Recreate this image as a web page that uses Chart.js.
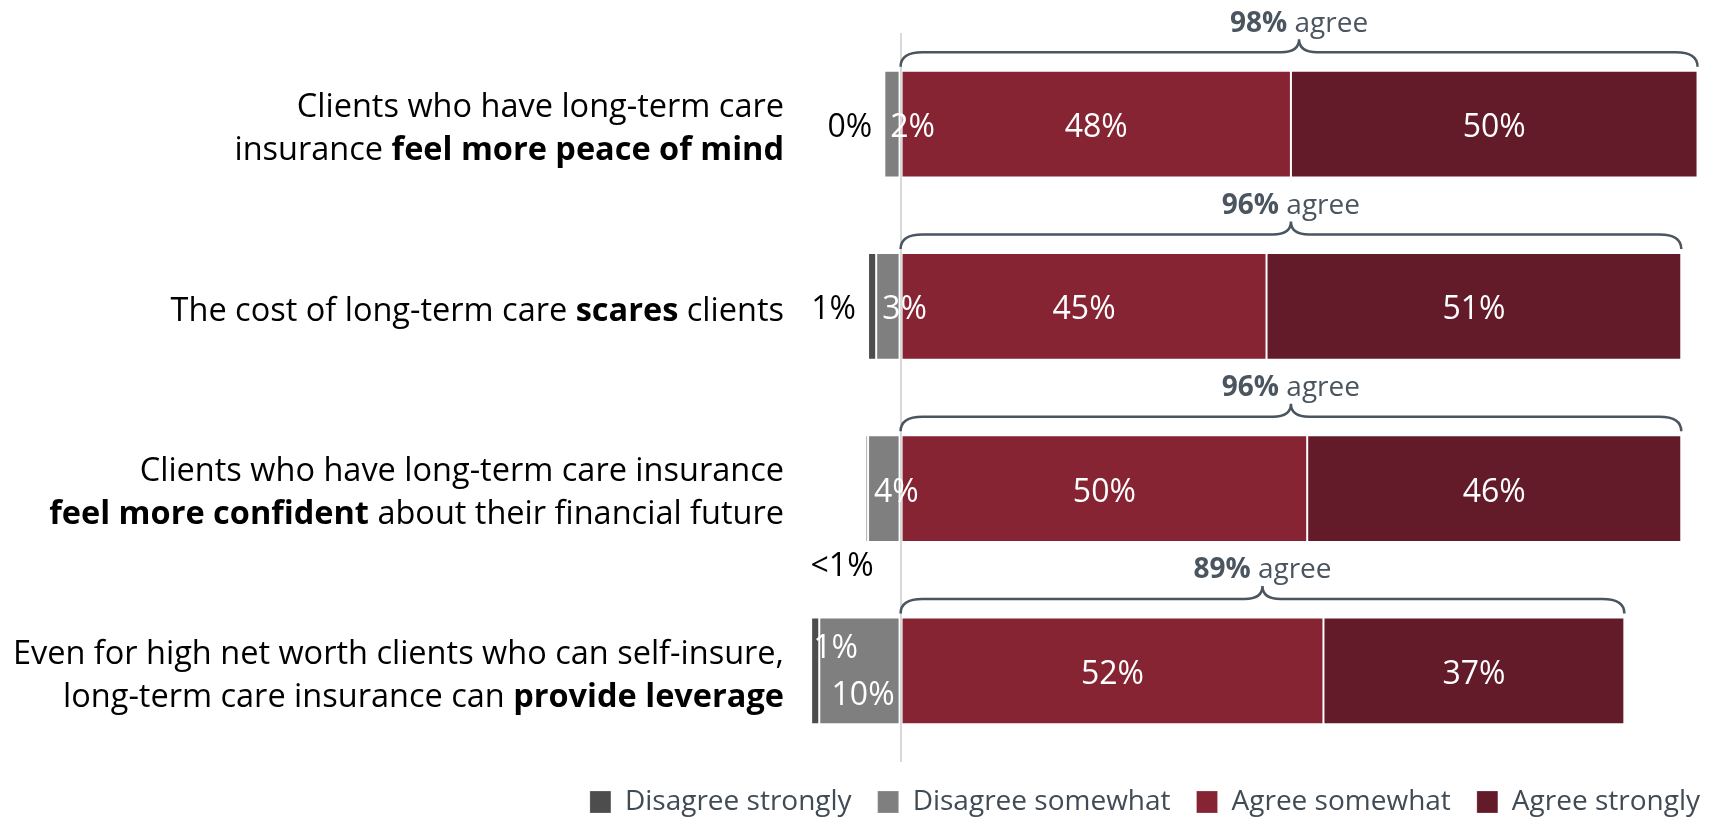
<!DOCTYPE html>
<html lang="en">
<head>
<meta charset="UTF-8" />
<title>Long-term care: advisor views</title>
<script src="https://cdn.jsdelivr.net/npm/chart.js@4.4.1/dist/chart.umd.min.js"></script>
<style>
  html, body { margin: 0; padding: 0; background: #fff; }
</style>
</head>
<body>
<canvas id="chart" width="1726" height="823"></canvas>
<script>
// Statements, one entry per line; **...** marks the bold part
const categories = [
  ['Clients who have long-term care', 'insurance **feel more peace of mind**'],
  ['The cost of long-term care **scares** clients'],
  ['Clients who have long-term care insurance', '**feel more confident** about their financial future'],
  ['Even for high net worth clients who can self-insure,', 'long-term care insurance can **provide leverage**']
];

const disagreeStrongly = [0, 1, 0.3, 1];
const disagreeSomewhat = [2, 3, 4, 10];
const agreeSomewhat = [48, 45, 50, 52];
const agreeStrongly = [50, 51, 46, 37];
const disagreeStronglyLabels = ['0%', '1%', '<1%', '1%'];

const seriesNames = ['Disagree strongly', 'Disagree somewhat', 'Agree somewhat', 'Agree strongly'];

const FONT = "'Open Sans', sans-serif";
const COLORS = ['#4d4d4d', '#7f7f7f', '#862433', '#641b29'];
const SLATE = '#4a5560';
const NUDGE = 4; // optical shift for middle-baseline text

// floating [start, end] segments, disagree side runs left of zero
const strongDisagreeBars = disagreeStrongly.map((v, i) => v > 0 ? [-(v + disagreeSomewhat[i]), -disagreeSomewhat[i]] : null);
const somewhatDisagreeBars = disagreeSomewhat.map(v => [-v, 0]);
const somewhatAgreeBars = agreeSomewhat.map(v => [0, v]);
const strongAgreeBars = agreeStrongly.map((v, i) => [agreeSomewhat[i], agreeSomewhat[i] + v]);

function richParts(line) {
  return line.split('**').map((text, i) => ({ text, bold: i % 2 === 1 })).filter(p => p.text);
}

function drawRich(ctx, line, x, y, size, color, align) {
  const parts = richParts(line);
  const fontOf = bold => (bold ? 'bold ' : '') + size + 'px ' + FONT;
  let total = 0;
  parts.forEach(p => {
    ctx.font = fontOf(p.bold);
    p.w = ctx.measureText(p.text).width;
    total += p.w;
  });
  let cx = align === 'right' ? x - total : align === 'center' ? x - total / 2 : x;
  ctx.fillStyle = color;
  ctx.textAlign = 'left';
  parts.forEach(p => {
    ctx.font = fontOf(p.bold);
    ctx.fillText(p.text, cx, y);
    cx += p.w;
  });
}

function drawText(ctx, text, x, y, align, color) {
  ctx.font = '32px ' + FONT;
  ctx.textAlign = align;
  ctx.fillStyle = color;
  ctx.fillText(text, x, y + NUDGE);
}

// curly brace spanning x0..x1, sitting just above `top`
function drawBrace(ctx, x0, x1, top) {
  const yEnd = top - 4, yLine = top - 18.5, yTip = top - 31.5;
  const xm = (x0 + x1) / 2, rEnd = 22, rMid = 18;
  ctx.beginPath();
  ctx.moveTo(x0, yEnd);
  ctx.quadraticCurveTo(x0, yLine, x0 + rEnd, yLine);
  ctx.lineTo(xm - rMid, yLine);
  ctx.quadraticCurveTo(xm, yLine, xm, yTip);
  ctx.quadraticCurveTo(xm, yLine, xm + rMid, yLine);
  ctx.lineTo(x1 - rEnd, yLine);
  ctx.quadraticCurveTo(x1, yLine, x1, yEnd);
  ctx.strokeStyle = SLATE;
  ctx.lineWidth = 2.5;
  ctx.stroke();
}

const annotations = {
  id: 'annotations',
  afterDatasetsDraw(chart) {
    const { ctx, chartArea, scales: { x, y } } = chart;
    ctx.save();
    ctx.textBaseline = 'middle';

    categories.forEach((lines, i) => {
      const cy = y.getPixelForValue(i);
      lines.forEach((line, k) => {
        const ly = cy + (k - (lines.length - 1) / 2) * 43 + NUDGE + 1;
        drawRich(ctx, line, chartArea.left - 19, ly, 32.5, '#000', 'right');
      });
    });

    categories.forEach((_, i) => {
      const bar = chart.getDatasetMeta(2).data[i];
      const cy = bar.y;
      const top = cy - bar.height / 2;
      const bottom = cy + bar.height / 2;
      const zero = x.getPixelForValue(0);

      // agree segments: centred labels
      [[2, agreeSomewhat], [3, agreeStrongly]].forEach(([d, values]) => {
        const el = chart.getDatasetMeta(d).data[i];
        drawText(ctx, values[i] + '%', (el.x + el.base) / 2, cy, 'center', '#fff');
      });

      // disagree segments
      const left = x.getPixelForValue(-(disagreeStrongly[i] + disagreeSomewhat[i]));
      const somewhatLeft = x.getPixelForValue(-disagreeSomewhat[i]);
      const strongLabel = disagreeStronglyLabels[i];
      if (zero - left > 80) {
        drawText(ctx, strongLabel, left + 2, cy - 26, 'left', '#fff');
        drawText(ctx, disagreeSomewhat[i] + '%', zero - 6, cy + 21.5, 'right', '#fff');
      } else {
        drawText(ctx, disagreeSomewhat[i] + '%', somewhatLeft + 6, cy, 'left', '#fff');
        if (disagreeStrongly[i] > 0 && disagreeStrongly[i] < 1) {
          drawText(ctx, strongLabel, left + 8, bottom + 21, 'right', '#000');
        } else {
          drawText(ctx, strongLabel, left - 12, cy, 'right', '#000');
        }
      }

      // agree total brace
      const total = agreeSomewhat[i] + agreeStrongly[i];
      const end = x.getPixelForValue(total);
      drawBrace(ctx, zero, end, top);
      ctx.textBaseline = 'alphabetic';
      drawRich(ctx, '**' + total + '%** agree', (zero + end) / 2, top - 39, 28, SLATE, 'center');
      ctx.textBaseline = 'middle';
    });

    ctx.restore();
  }
};

const datasets = [strongDisagreeBars, somewhatDisagreeBars, somewhatAgreeBars, strongAgreeBars].map((data, d) => ({
  label: seriesNames[d],
  data,
  backgroundColor: COLORS[d],
  borderColor: 'rgba(255,255,255,0.22)',
  borderWidth: 1,
  borderSkipped: false
}));

new Chart(document.getElementById('chart'), {
  type: 'bar',
  data: { labels: categories.map(c => c.join(' ')), datasets },
  options: {
    indexAxis: 'y',
    responsive: false,
    animation: false,
    devicePixelRatio: 1,
    layout: { padding: { top: 33, right: 0, bottom: 0, left: 0 } },
    datasets: {
      bar: { grouped: false, barPercentage: 0.586, categoryPercentage: 1 }
    },
    scales: {
      x: {
        min: -12,
        max: 101.5,
        z: 1,
        ticks: { display: false },
        border: { display: false },
        grid: { drawTicks: false, color: '#d9d9d9', lineWidth: 2 },
        afterBuildTicks: s => { s.ticks = [{ value: 0 }]; },
        afterFit: s => { s.height = 0; }
      },
      y: {
        ticks: { display: false },
        border: { display: false },
        grid: { display: false },
        afterFit: s => { s.width = 803; }
      }
    },
    plugins: {
      tooltip: { enabled: false },
      legend: {
        position: 'bottom',
        align: 'end',
        maxHeight: 61,
        labels: {
          boxWidth: 21,
          boxHeight: 22,
          padding: 26,
          color: '#404b55',
          font: { family: FONT, size: 28 }
        }
      }
    }
  },
  plugins: [annotations]
});
</script>
</body>
</html>
